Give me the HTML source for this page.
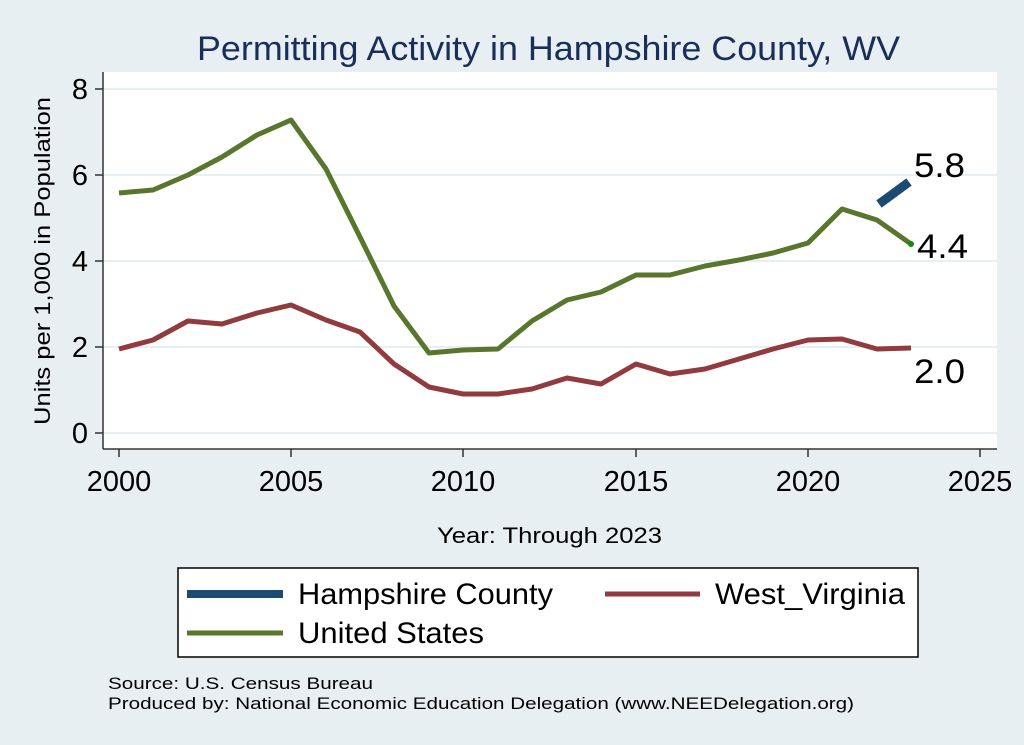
<!DOCTYPE html>
<html><head><style>body{margin:0;background:#e8eff2}svg{display:block}</style></head><body>
<svg width="1024" height="745" viewBox="0 0 1024 745" font-family="Liberation Sans, sans-serif">
<rect width="1024" height="745" fill="#e8eff2"/>
<text x="197" y="60" font-size="34" fill="#1a2e5a" textLength="703" lengthAdjust="spacingAndGlyphs">Permitting Activity in Hampshire County, WV</text>
<rect x="103" y="72" width="894" height="377" fill="#fff"/>
<g stroke="#e8eff2" stroke-width="2">
<line x1="103" x2="997" y1="89" y2="89"/><line x1="103" x2="997" y1="175" y2="175"/><line x1="103" x2="997" y1="261" y2="261"/><line x1="103" x2="997" y1="347" y2="347"/><line x1="103" x2="997" y1="433" y2="433"/>
</g>
<g stroke="#333" stroke-width="1.5">
<line x1="103" x2="103" y1="72" y2="449"/><line x1="103" x2="997" y1="449" y2="449"/>
<line x1="95" x2="103" y1="89" y2="89"/><line x1="95" x2="103" y1="175" y2="175"/><line x1="95" x2="103" y1="261" y2="261"/><line x1="95" x2="103" y1="347" y2="347"/><line x1="95" x2="103" y1="433" y2="433"/>
<line x1="119" x2="119" y1="449" y2="457"/><line x1="291" x2="291" y1="449" y2="457"/><line x1="463" x2="463" y1="449" y2="457"/><line x1="636" x2="636" y1="449" y2="457"/><line x1="808" x2="808" y1="449" y2="457"/><line x1="980" x2="980" y1="449" y2="457"/>
</g>
<g font-size="29" fill="#000" text-anchor="end">
<text x="88" y="99">8</text><text x="88" y="185">6</text><text x="88" y="271">4</text><text x="88" y="357">2</text><text x="88" y="443">0</text>
</g>
<g font-size="29" fill="#000" text-anchor="middle">
<text x="119" y="491">2000</text><text x="291" y="491">2005</text><text x="463" y="491">2010</text><text x="636" y="491">2015</text><text x="808" y="491">2020</text><text x="980" y="491">2025</text>
</g>
<text x="437" y="543" font-size="22" textLength="225" lengthAdjust="spacingAndGlyphs">Year: Through 2023</text>
<text transform="translate(50,425) rotate(-90)" font-size="22" textLength="328" lengthAdjust="spacingAndGlyphs">Units per 1,000 in Population</text>
<polyline fill="none" stroke="#58772c" stroke-width="5" stroke-linejoin="round" points="119,193 153,190 188,175 222,157 257,135 291,120 326,169 360,237 394,306 429,353 463,350 498,349 532,321 567,300 601,292 636,275 670,275 705,266 739,260 773,253 808,243 842,209 877,220 911,244"/>
<circle cx="911" cy="244" r="3" fill="#138a13"/>
<polyline fill="none" stroke="#913b3f" stroke-width="5" stroke-linejoin="round" points="119,349 153,340 188,321 222,324 257,313 291,305 326,320 360,332 394,364 429,387 463,394 498,394 532,389 567,378 601,384 636,364 670,374 705,369 739,359 773,349 808,340 842,339 877,349 911,348"/>
<line x1="879" y1="204" x2="909" y2="182" stroke="#1b4a73" stroke-width="9" stroke-linecap="butt"/>
<g font-size="34" fill="#000">
<text x="914" y="177" textLength="51" lengthAdjust="spacingAndGlyphs">5.8</text><text x="917" y="258" textLength="51" lengthAdjust="spacingAndGlyphs">4.4</text><text x="914" y="383" textLength="51" lengthAdjust="spacingAndGlyphs">2.0</text>
</g>
<rect x="178" y="568" width="740" height="89" fill="#fff" stroke="#000" stroke-width="1.5"/>
<line x1="187" y1="594" x2="283" y2="594" stroke="#1b4a73" stroke-width="8"/>
<text x="298" y="604" font-size="30" textLength="255" lengthAdjust="spacingAndGlyphs">Hampshire County</text>
<line x1="605" y1="594" x2="700" y2="594" stroke="#913b3f" stroke-width="5"/>
<text x="715" y="604" font-size="30" textLength="190" lengthAdjust="spacingAndGlyphs">West_Virginia</text>
<line x1="187" y1="633" x2="283" y2="633" stroke="#58772c" stroke-width="5"/>
<text x="298" y="643" font-size="30" textLength="186" lengthAdjust="spacingAndGlyphs">United States</text>
<text x="108" y="689" font-size="17" textLength="265" lengthAdjust="spacingAndGlyphs">Source: U.S. Census Bureau</text>
<text x="108" y="709" font-size="17" textLength="746" lengthAdjust="spacingAndGlyphs">Produced by: National Economic Education Delegation (www.NEEDelegation.org)</text>
</svg>
</body></html>
